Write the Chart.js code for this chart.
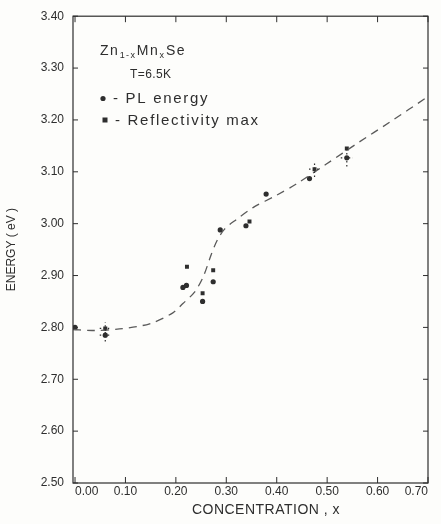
<!DOCTYPE html>
<html>
<head>
<meta charset="utf-8">
<script src="https://cdn.jsdelivr.net/npm/chart.js@4.4.1/dist/chart.umd.min.js"></script>
<style>
    body { margin: 0; background: #fdfdfb; }
    canvas { display: block; }
</style>
</head>
<body>
<canvas id="energyChart" width="441" height="524"></canvas>
<script>
// Zn(1-x)Mn(x)Se band edge energy vs Mn concentration, T = 6.5 K
var plConc   = [0.000, 0.060, 0.214, 0.221, 0.253, 0.274, 0.288, 0.339, 0.379, 0.465, 0.539];
var plEnergy = [2.800, 2.785, 2.877, 2.881, 2.850, 2.888, 2.988, 2.996, 3.057, 3.087, 3.127];

var reflConc   = [0.060, 0.222, 0.253, 0.274, 0.346, 0.475, 0.539];
var reflEnergy = [2.798, 2.917, 2.866, 2.910, 3.004, 3.105, 3.145];

// dashed guide line through the data
var curveConc   = [-0.004, 0.035, 0.088, 0.148, 0.194, 0.214, 0.237, 0.254, 0.270, 0.282, 0.297, 0.320, 0.353, 0.400, 0.438, 0.497, 0.563, 0.623, 0.700];
var curveEnergy = [2.796, 2.794, 2.797, 2.807, 2.828, 2.846, 2.868, 2.897, 2.940, 2.968, 2.990, 3.008, 3.031, 3.055, 3.076, 3.114, 3.157, 3.195, 3.245];

// error bars (dotted crosses)
var errConc   = [0.060, 0.060, 0.475, 0.539];
var errEnergy = [2.785, 2.798, 3.105, 3.127];
var errDx     = [0.011, 0.011, 0.011, 0.012];
var errDe     = [0.012, 0.012, 0.015, 0.017];

var xTicks = [0, 0.1, 0.2, 0.3, 0.4, 0.5, 0.6, 0.7];
var xTickLabels = ['0.00', '0.10', '0.20', '0.30', '0.40', '0.50', '0.60', '0.70'];
var yTicks = [2.5, 2.6, 2.7, 2.8, 2.9, 3.0, 3.1, 3.2, 3.3, 3.4];
var yTickLabels = ['2.50', '2.60', '2.70', '2.80', '2.90', '3.00', '3.10', '3.20', '3.30', '3.40'];

var ink = '#2e2e2e';
var fontFamily = '"Liberation Sans", Arial, sans-serif';

function toPoints(xs, ys) {
    return xs.map(function (x, i) { return {x: x, y: ys[i]}; });
}

// box round the plot with inward ticks on all sides
var frame = {
    id: 'frame',
    afterDraw: function (chart) {
        var ctx = chart.ctx;
        var a = chart.chartArea;
        var xs = chart.scales.x;
        var ys = chart.scales.y;
        ctx.save();
        ctx.strokeStyle = ink;
        ctx.lineWidth = 1.2;
        ctx.strokeRect(a.left, a.top, a.right - a.left, a.bottom - a.top);
        ctx.lineWidth = 1;
        ctx.beginPath();
        xTicks.forEach(function (v) {
            var px = xs.getPixelForValue(v);
            ctx.moveTo(px, a.bottom); ctx.lineTo(px, a.bottom - 6);
            ctx.moveTo(px, a.top); ctx.lineTo(px, a.top + 6);
        });
        yTicks.forEach(function (v) {
            var py = ys.getPixelForValue(v);
            ctx.moveTo(a.left, py); ctx.lineTo(a.left + 5, py);
            ctx.moveTo(a.right, py); ctx.lineTo(a.right - 5, py);
        });
        ctx.stroke();
        ctx.restore();
    }
};

var errorBars = {
    id: 'errorBars',
    afterDatasetsDraw: function (chart) {
        var ctx = chart.ctx;
        var xs = chart.scales.x;
        var ys = chart.scales.y;
        ctx.save();
        ctx.strokeStyle = ink;
        ctx.lineWidth = 1.2;
        ctx.setLineDash([1.5, 2.5]);
        ctx.beginPath();
        errConc.forEach(function (c, i) {
            var e = errEnergy[i];
            ctx.moveTo(xs.getPixelForValue(c - errDx[i]), ys.getPixelForValue(e));
            ctx.lineTo(xs.getPixelForValue(c + errDx[i]), ys.getPixelForValue(e));
            ctx.moveTo(xs.getPixelForValue(c), ys.getPixelForValue(e - errDe[i]));
            ctx.lineTo(xs.getPixelForValue(c), ys.getPixelForValue(e + errDe[i]));
        });
        ctx.stroke();
        ctx.restore();
    }
};

// sample name, temperature, symbol key and the x axis title
var keyText = {
    id: 'keyText',
    afterDraw: function (chart) {
        var ctx = chart.ctx;
        ctx.save();
        ctx.fillStyle = ink;
        ctx.textBaseline = 'alphabetic';
        ctx.letterSpacing = '1.4px';

        var x = 100, y = 55;
        var parts = [['Zn', 14, 0], ['1-x', 9, 3], ['Mn', 14, 0], ['x', 9, 3], ['Se', 14, 0]];
        parts.forEach(function (p) {
            ctx.font = p[1] + 'px ' + fontFamily;
            ctx.fillText(p[0], x, y + p[2]);
            x += ctx.measureText(p[0]).width + 0.5;
        });

        ctx.font = '12px ' + fontFamily;
        ctx.letterSpacing = '0.4px';
        ctx.fillText('T=6.5K', 130, 78);

        ctx.font = '15px ' + fontFamily;
        ctx.letterSpacing = '1.7px';
        ctx.beginPath();
        ctx.arc(103, 98.5, 2.6, 0, Math.PI * 2);
        ctx.fill();
        ctx.fillText('- PL energy', 113, 103);
        ctx.fillRect(102.5, 117.5, 5, 5);
        ctx.fillText('- Reflectivity max', 115, 125);

        ctx.font = '14px ' + fontFamily;
        ctx.letterSpacing = '0.5px';
        ctx.textAlign = 'center';
        ctx.fillText('CONCENTRATION , x', 266, 514);
        ctx.restore();
    }
};

new Chart(document.getElementById('energyChart'), {
    type: 'scatter',
    data: {
        datasets: [
            {
                label: 'fit',
                type: 'line',
                data: toPoints(curveConc, curveEnergy),
                borderColor: '#5a5a5a',
                borderWidth: 1.3,
                borderDash: [8, 6],
                pointRadius: 0,
                fill: false,
                tension: 0.3
            },
            {
                label: 'PL energy',
                data: toPoints(plConc, plEnergy),
                pointStyle: 'circle',
                pointRadius: 2.6,
                backgroundColor: ink,
                borderColor: ink,
                borderWidth: 0
            },
            {
                label: 'Reflectivity max',
                data: toPoints(reflConc, reflEnergy),
                pointStyle: 'rect',
                pointRadius: 2.8,
                backgroundColor: ink,
                borderColor: ink,
                borderWidth: 0
            }
        ]
    },
    options: {
        responsive: false,
        animation: false,
        layout: { padding: { top: 13, right: 13, left: 0, bottom: 0 } },
        plugins: {
            legend: { display: false },
            tooltip: { enabled: false }
        },
        scales: {
            x: {
                type: 'linear',
                min: -0.004,
                max: 0.70,
                afterBuildTicks: function (s) { s.ticks = xTicks.map(function (v) { return {value: v}; }); },
                afterFit: function (s) { s.height = 41; },
                grid: { display: false, drawTicks: false },
                border: { display: false },
                ticks: {
                    align: 'inner',
                    padding: 1,
                    color: ink,
                    font: { family: fontFamily, size: 12 },
                    callback: function (v) { return xTickLabels[xTicks.indexOf(v)]; }
                }
            },
            y: {
                min: 2.5,
                max: 3.4,
                afterBuildTicks: function (s) { s.ticks = yTicks.map(function (v) { return {value: v}; }); },
                afterFit: function (s) { s.width = 73; },
                grid: { display: false, drawTicks: false },
                border: { display: false },
                ticks: {
                    padding: 9,
                    color: ink,
                    font: { family: fontFamily, size: 12 },
                    callback: function (v) { return yTickLabels[yTicks.indexOf(v)]; }
                },
                title: {
                    display: true,
                    text: 'ENERGY ( eV )',
                    color: ink,
                    font: { family: fontFamily, size: 12 },
                    padding: { top: 4, bottom: 0 }
                }
            }
        }
    },
    plugins: [frame, errorBars, keyText]
});
</script>
</body>
</html>
